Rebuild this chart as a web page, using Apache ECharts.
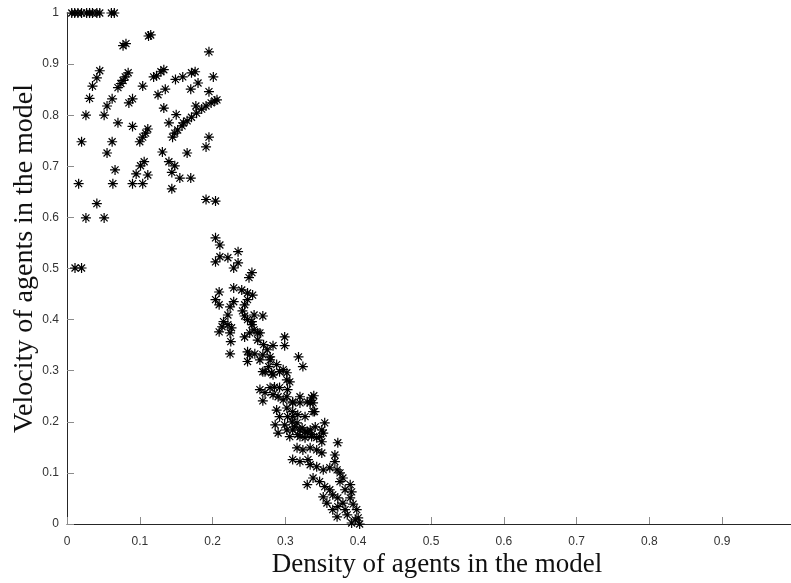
<!DOCTYPE html>
<html>
<head>
<meta charset="utf-8">
<script src="https://cdn.jsdelivr.net/npm/echarts@6/dist/echarts.min.js"></script>
<style>html,body{margin:0;padding:0;background:#fff}#c{width:791px;height:583px}</style>
</head>
<body>
<div id="c"></div>
<script>
// Density (x) and velocity (y) of agents
const density = [
  0.0065,0.0106,0.015,0.020,0.027,0.031,0.035,0.041,0.045,0.061,0.065,
  0.077,0.081,0.112,0.115,0.195,
  0.045,0.041,0.035,0.031,0.026,0.020,0.016,
  0.084,0.080,0.077,0.074,0.070,
  0.062,0.055,0.051,0.090,0.085,0.070,
  0.062,0.055,0.066,0.063,0.090,
  0.111,0.108,0.104,0.100,
  0.106,0.101,0.095,0.090,0.104,0.111,
  0.104,0.119,0.123,0.129,0.133,
  0.125,0.135,0.133,0.140,0.150,
  0.145,0.148,0.152,0.158,0.160,0.165,
  0.131,0.140,0.148,0.144,0.155,0.170,0.165,0.144,
  0.149,0.159,0.171,0.176,0.170,0.180,0.177,
  0.171,0.178,0.185,0.191,0.198,0.203,0.206,
  0.195,0.191,0.201,0.195,
  0.041,0.026,0.051,0.191,0.204,
  0.011,0.020,
  // congested branch
  0.204,0.210,0.235,0.210,0.221,0.204,0.235,0.229,0.254,0.250,
  0.209,0.204,0.209,0.229,0.240,0.248,0.255,0.224,0.229,0.244,0.248,
  0.269,0.221,0.215,0.213,0.209,0.221,0.226,0.224,
  0.241,0.244,0.248,0.254,0.257,0.262,0.225,0.257,0.254,
  0.224,0.299,0.299,0.318,0.324,
  0.248,0.251,0.248,0.265,0.265,0.262,
  0.283,0.275,0.279,
  0.269,0.277,0.288,0.292,0.302,0.283,
  0.244,0.251,0.258,0.269,0.270,
  0.279,0.272,0.281,0.297,0.306,0.302,
  0.265,0.272,0.269,0.279,0.285,0.292,0.303,
  0.283,0.290,0.297,0.302,0.310,0.320,0.330,0.336,0.339,
  0.288,0.292,0.286,0.290,
  0.302,0.310,0.317,0.327,0.340,0.338,
  0.303,0.309,0.313,0.320,0.327,0.334,0.341,
  0.299,0.302,0.306,
  0.354,0.350,0.347,
  0.320,0.327,0.336,
  0.310,0.320,0.334,0.338,
  0.310,0.316,0.323,0.330,0.336,0.343,0.350,0.310,0.317,
  0.352,0.372,0.368,
  0.310,0.320,0.331,
  0.316,0.324,0.334,0.343,0.350,0.334,0.343,0.352,0.361,0.371,0.375,
  0.330,
  0.338,0.347,0.354,0.361,0.365,0.372,0.352,0.357,
  0.365,0.371,0.372,
  0.389,0.391,0.389,0.393,0.398,0.400,0.391,0.402,0.396,
  0.379,0.382,0.385,
  0.368,0.379,0.382,0.375
];
const velocity = [
  1,1,1,1,1,1,1,1,1,1,1,
  0.936,0.940,0.955,0.957,0.924,
  0.887,0.873,0.857,0.833,0.800,0.748,0.666,
  0.883,0.875,0.868,0.862,0.854,
  0.832,0.818,0.800,0.832,0.824,0.785,
  0.748,0.726,0.693,0.666,0.778,
  0.773,0.765,0.757,0.748,
  0.709,0.701,0.685,0.666,0.666,0.683,
  0.857,0.875,0.877,0.885,0.889,
  0.840,0.851,0.814,0.785,0.801,
  0.757,0.765,0.771,0.779,0.785,0.789,
  0.728,0.709,0.701,0.688,0.677,0.677,0.726,0.656,
  0.870,0.875,0.883,0.885,0.851,0.863,0.818,
  0.796,0.804,0.812,0.818,0.824,0.828,0.830,
  0.757,0.738,0.875,0.846,
  0.627,0.599,0.599,0.635,0.632,
  0.501,0.501,
  // congested branch
  0.560,0.546,0.533,0.523,0.521,0.513,0.511,0.501,0.492,0.482,
  0.454,0.439,0.429,0.462,0.458,0.452,0.448,0.425,0.435,0.429,0.439,
  0.407,0.409,0.396,0.386,0.376,0.390,0.384,0.374,
  0.417,0.407,0.400,0.390,0.380,0.374,0.357,0.409,0.396,
  0.333,0.366,0.349,0.327,0.308,
  0.337,0.331,0.318,0.321,0.374,0.360,
  0.349,0.341,0.327,
  0.298,0.308,0.312,0.298,0.296,0.292,
  0.366,0.374,0.333,0.331,0.351,
  0.321,0.298,0.296,0.302,0.278,0.282,
  0.263,0.257,0.241,0.267,0.268,0.267,0.263,
  0.253,0.249,0.243,0.249,0.239,0.249,0.239,0.247,0.251,
  0.223,0.210,0.194,0.178,
  0.227,0.220,0.214,0.210,0.220,0.237,
  0.210,0.200,0.190,0.184,0.180,0.184,0.190,
  0.194,0.184,0.171,
  0.198,0.184,0.171,
  0.171,0.169,0.171,
  0.237,0.237,0.237,0.220,
  0.210,0.198,0.188,0.180,0.175,0.169,0.161,0.184,0.175,
  0.178,0.159,0.135,
  0.126,0.122,0.126,
  0.149,0.145,0.149,0.145,0.139,0.116,0.112,0.106,0.110,0.106,0.100,
  0.077,
  0.090,0.083,0.073,0.067,0.057,0.051,0.053,0.041,
  0.028,0.014,0.034,
  0.077,0.063,0.051,0.039,0.028,0.012,0.002,0,0.008,
  0.041,0.028,0.018,
  0.122,0.090,0.067,0.083
];
const xTicks = [0,0.1,0.2,0.3,0.4,0.5,0.6,0.7,0.8,0.9];
const yTicks = [0,0.1,0.2,0.3,0.4,0.5,0.6,0.7,0.8,0.9,1];
const xTitle = 'Density of agents in the model';
const yTitle = 'Velocity of agents in the model';

const points = density.map((d, i) => [d, velocity[i]]);
const fmt = (list) => (v) => {
  const r = Math.round(v * 10) / 10;
  return list.some(t => Math.abs(t - r) < 1e-9) && Math.abs(v - r) < 1e-9 ? String(r) : '';
};

const chart = echarts.init(document.getElementById('c'), null, {renderer: 'canvas'});
chart.setOption({
  animation: false,
  backgroundColor: '#fff',
  grid: {left: 67, right: -4, top: 13, bottom: 59, containLabel: false, outerBoundsMode: 'none'},
  xAxis: {
    type: 'value', min: 0, max: 1, interval: 0.1,
    name: xTitle, nameLocation: 'middle', nameGap: 27, nameMoveOverlap: false,
    nameTextStyle: {fontFamily: 'Liberation Serif', fontSize: 27, color: '#111', padding: [0, 0, 0, 12]},
    axisLine: {show: true, lineStyle: {color: '#262626', width: 1}},
    axisTick: {show: true, inside: true, length: 7, lineStyle: {color: '#8c8c8c'}},
    axisLabel: {formatter: fmt(xTicks), fontFamily: 'Liberation Sans', fontSize: 12, color: '#333', margin: 12},
    splitLine: {show: false}
  },
  yAxis: {
    type: 'value', min: 0, max: 1, interval: 0.1,
    name: yTitle, nameLocation: 'middle', nameGap: 28, nameMoveOverlap: false,
    nameTextStyle: {fontFamily: 'Liberation Serif', fontSize: 28, color: '#111', padding: [0, 0, 0, 20]},
    axisLine: {show: true, lineStyle: {color: '#262626', width: 1}},
    axisTick: {show: true, inside: true, length: 7, lineStyle: {color: '#8c8c8c'}},
    axisLabel: {formatter: fmt(yTicks), fontFamily: 'Liberation Sans', fontSize: 12, color: '#333', margin: 8},
    splitLine: {show: false}
  },
  series: [{
    type: 'scatter',
    data: points,
    symbol: 'path://M0,5L10,5M5,0L5,10M1.5,1.5L8.5,8.5M8.5,1.5L1.5,8.5',
    symbolSize: 10,
    clip: false,
    itemStyle: {color: 'rgba(0,0,0,0)', borderColor: '#000', borderWidth: 1.2, opacity: 1},
    emphasis: {disabled: true}
  }]
});
</script>
</body>
</html>
